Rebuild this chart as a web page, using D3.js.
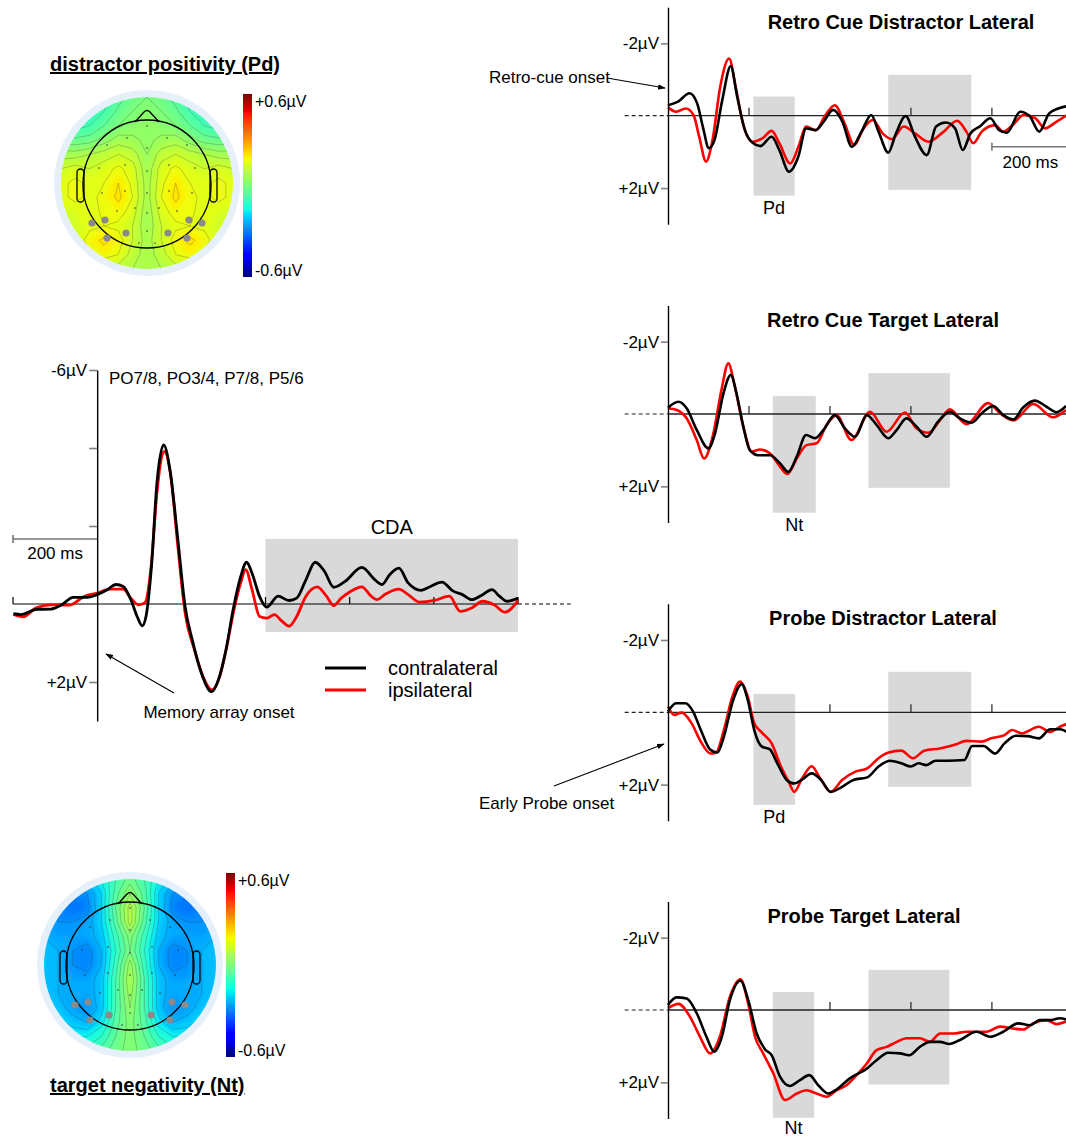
<!DOCTYPE html>
<html>
<head>
<meta charset="utf-8">
<script src="https://cdn.jsdelivr.net/npm/d3@7"></script>
<style>
body { margin: 0; background: #fff; }
svg { display: block; font-family: "Liberation Sans", Arial, sans-serif; }
</style>
</head>
<body>
<svg id="fig" width="1066" height="1138"></svg>
<script>
// ---------- data (ms, µV) ----------
// big plot, memory array locked
var mainContra = [[-199,0.25],[-181,0.27],[-145,0.14],[-110,0.13],[-84,0.02],[-57,-0.17],[-22,-0.17],[0,-0.24],[23,-0.36],[45,-0.5],[62,-0.45],[80,-0.11],[95,0.32],[107,0.56],[116,0.32],[129,-0.96],[142,-3.1],[158,-4.08],[173,-3.44],[191,-1.73],[209,0.07],[226,0.92],[248,1.78],[272,2.25],[288,1.95],[306,1.18],[323,0.15],[341,-0.7],[355,-1.07],[368,-0.79],[386,-0.19],[403,0.08],[430,-0.2],[456,-0.09],[474,-0.15],[496,-0.62],[518,-1.07],[540,-0.84],[562,-0.43],[589,-0.58],[629,-0.94],[660,-0.62],[677,-0.5],[695,-0.75],[717,-0.92],[739,-0.54],[770,-0.35],[792,-0.45],[819,-0.56],[846,-0.33],[868,-0.24],[890,-0.11],[916,-0.24],[938,-0.37],[956,-0.2],[974,-0.07],[1000,-0.15]];
var mainIpsi = [[-199,0.27],[-176,0.33],[-145,0.1],[-110,0.02],[-66,0.03],[-30,-0.2],[0,-0.28],[31,-0.38],[62,-0.38],[80,-0.15],[98,0.02],[113,-0.03],[129,-1.05],[142,-2.85],[160,-3.91],[175,-3.27],[191,-1.56],[209,0.23],[231,1.17],[251,1.85],[272,2.2],[290,1.9],[308,1.09],[325,0.15],[341,-0.54],[353,-0.88],[368,-0.37],[386,0.32],[403,0.36],[421,0.27],[439,0.44],[456,0.57],[474,0.32],[496,-0.2],[523,-0.44],[545,-0.2],[562,0.04],[580,-0.15],[602,-0.32],[629,-0.44],[651,-0.2],[664,-0.11],[686,-0.26],[717,-0.38],[739,-0.24],[766,-0.05],[801,-0.09],[837,-0.2],[863,0.19],[890,0.1],[916,-0.07],[943,0.02],[969,0.21],[1000,-0.09]];
var mainYTicks = [-6, -4, -2, 2];
var mainYLabels = ["-6µV", "", "", "+2µV"];
var mainXTicks = [-200, 400, 600, 800, 1000];
var cdaWindow = [400, 1000, -1.67, 0.72];

// retro cue distractor lateral
var rcdContra = [[0,-0.29],[25,-0.39],[53,-0.62],[72,-0.34],[86,0.3],[101,0.9],[115,0.67],[134,-0.43],[155,-1.37],[171,-0.52],[190,0.4],[209,0.75],[228,0.84],[256,0.58],[275,0.95],[299,1.55],[322,1.13],[341,0.35],[365,0.4],[384,0.17],[408,-0.16],[431,0.17],[454,0.86],[478,0.44],[502,-0.02],[520,0.44],[544,1.02],[563,0.49],[587,0.01],[610,0.58],[639,1.09],[662,0.3],[686,0.19],[709,0.35],[728,0.95],[747,0.49],[771,0.29],[796,0.07],[818,0.4],[837,0.47],[870,-0.11],[893,0.01],[917,0.44],[941,-0.06],[964,-0.2],[990,-0.27]];
var rcdIpsi = [[0,-0.23],[20,-0.11],[44,-0.2],[63,-0.02],[77,0.58],[94,1.27],[110,0.67],[129,-0.8],[151,-1.58],[167,-0.8],[185,0.21],[209,0.72],[233,0.63],[256,0.42],[275,0.76],[302,1.32],[322,0.86],[341,0.3],[365,0.4],[389,-0.02],[412,-0.29],[436,0.21],[460,0.81],[483,0.35],[506,0.12],[530,0.49],[553,0.65],[582,0.3],[610,0.49],[643,0.72],[681,0.44],[714,0.14],[737,0.44],[754,0.76],[775,0.44],[808,0.26],[827,0.44],[851,0.26],[879,-0.02],[907,0.07],[931,0.35],[959,0.17],[990,-0.05]];
var rcdBoxes = [[211,313,-0.53,2.21],[544,749,-1.13,2.05]];

// retro cue target lateral
var rctContra = [[0,-0.18],[26,-0.34],[46,-0.16],[71,0.44],[100,0.95],[116,0.54],[137,-0.57],[155,-1.08],[170,-0.53],[186,0.35],[202,1.0],[223,1.14],[252,1.14],[277,1.37],[297,1.6],[318,1.18],[341,0.58],[363,0.67],[384,0.44],[412,0.03],[437,0.4],[462,0.63],[491,0.03],[515,0.3],[544,0.67],[565,0.44],[589,0.12],[614,0.35],[639,0.63],[667,0.21],[696,-0.06],[721,0.12],[750,0.24],[775,-0.02],[803,-0.22],[828,0.03],[853,0.15],[877,-0.18],[906,-0.37],[935,-0.2],[960,-0.05],[983,-0.22]];
var rctIpsi = [[0,-0.16],[22,-0.11],[46,0.12],[71,0.72],[89,1.23],[112,0.54],[132,-0.66],[149,-1.4],[165,-0.76],[186,0.35],[207,1.04],[227,0.98],[252,1.09],[277,1.46],[295,1.66],[318,1.23],[342,0.86],[367,0.81],[392,0.3],[416,0.03],[453,0.72],[499,-0.06],[540,0.49],[585,-0.04],[614,0.4],[643,0.52],[672,0.17],[696,-0.13],[737,0.28],[791,-0.3],[820,-0.02],[853,0.18],[902,-0.28],[951,0.09],[983,-0.11]];
var rctBoxes = [[259,365,-0.5,2.73],[495,696,-1.13,2.04]];

// probe distractor lateral
var pdContra = [[0,-0.02],[20,-0.25],[43,-0.25],[62,-0.02],[81,0.49],[105,1.04],[122,1.11],[138,0.67],[161,-0.34],[182,-0.78],[197,-0.34],[213,0.49],[232,0.95],[251,1.02],[270,1.41],[293,1.87],[312,1.97],[331,1.86],[355,1.69],[378,1.87],[402,2.2],[430,2.06],[458,1.87],[492,1.8],[520,1.5],[548,1.34],[576,1.41],[600,1.5],[619,1.41],[638,1.46],[661,1.34],[690,1.34],[732,1.32],[751,0.93],[779,0.93],[808,1.14],[831,0.86],[859,0.65],[888,0.66],[916,0.72],[944,0.47],[968,0.47],[990,0.58]];
var pdIpsi = [[0,-0.16],[15,0.07],[34,0.01],[58,0.3],[81,0.81],[105,1.14],[119,1.11],[138,0.49],[159,-0.43],[178,-0.85],[197,-0.43],[213,0.3],[232,0.56],[256,0.86],[279,1.5],[298,1.92],[312,2.2],[331,1.83],[355,1.49],[376,1.83],[402,2.2],[430,1.87],[463,1.64],[492,1.55],[520,1.27],[543,1.12],[576,1.06],[605,1.27],[633,1.06],[671,1.0],[708,0.9],[737,0.79],[775,0.81],[798,0.72],[831,0.63],[850,0.49],[873,0.58],[916,0.4],[944,0.54],[968,0.4],[990,0.3]];
var pdBoxes = [[211,314,-0.51,2.56],[544,749,-1.12,2.06]];

// probe target lateral
var ptContra = [[0,-0.14],[21,-0.35],[46,-0.32],[71,0.09],[95,0.74],[114,1.15],[133,0.74],[153,-0.28],[179,-0.81],[198,-0.28],[219,0.65],[240,1.09],[256,1.25],[277,1.85],[301,2.1],[326,1.94],[349,1.8],[371,2.08],[396,2.31],[416,2.2],[449,1.89],[491,1.62],[515,1.39],[544,1.18],[573,1.2],[596,1.25],[622,1.02],[647,0.88],[672,0.88],[695,0.94],[721,0.83],[762,0.6],[795,0.74],[828,0.6],[865,0.37],[894,0.42],[918,0.28],[943,0.28],[968,0.23],[983,0.26]];
var ptIpsi = [[0,-0.05],[26,-0.17],[54,0.18],[79,0.74],[104,1.2],[128,0.74],[153,-0.37],[179,-0.85],[198,-0.18],[215,0.74],[235,1.2],[260,1.75],[289,2.49],[318,2.31],[342,2.22],[367,2.31],[392,2.4],[416,2.22],[441,2.08],[470,1.75],[491,1.48],[515,1.11],[540,1.02],[565,0.88],[589,0.78],[622,0.78],[647,0.88],[672,0.65],[705,0.65],[737,0.6],[787,0.6],[820,0.46],[853,0.51],[877,0.54],[902,0.37],[935,0.28],[960,0.39],[983,0.32]];
var ptBoxes = [[259,361,-0.5,2.98],[495,695,-1.11,2.06]];

var panelYTicks = [-2, 2];
var panelYLabels = ["-2µV", "+2µV"];

// topographies, 13 x 13 grid over the scalp disc, µV
var pdTopo = [
  [-0.12,-0.12,-0.12,-0.1,-0.06,-0.02,0.0,-0.02,-0.06,-0.1,-0.12,-0.12,-0.12],
  [-0.12,-0.12,-0.1,-0.08,-0.03,0.0,0.02,0.0,-0.03,-0.08,-0.1,-0.12,-0.12],
  [-0.08,-0.1,-0.08,-0.04,0.0,0.02,0.03,0.02,0.0,-0.04,-0.08,-0.1,-0.08],
  [-0.02,-0.03,-0.02,0.02,0.06,0.05,0.03,0.05,0.06,0.02,-0.02,-0.03,-0.02],
  [0.06,0.06,0.08,0.1,0.12,0.1,0.04,0.1,0.12,0.1,0.08,0.06,0.06],
  [0.12,0.14,0.12,0.14,0.17,0.14,0.05,0.14,0.17,0.14,0.12,0.14,0.12],
  [0.15,0.17,0.15,0.16,0.2,0.15,0.06,0.15,0.2,0.16,0.15,0.17,0.15],
  [0.15,0.17,0.15,0.17,0.21,0.16,0.06,0.16,0.21,0.17,0.15,0.17,0.15],
  [0.13,0.14,0.14,0.17,0.18,0.14,0.05,0.14,0.18,0.17,0.14,0.14,0.13],
  [0.12,0.13,0.15,0.16,0.15,0.12,0.05,0.12,0.15,0.16,0.15,0.13,0.12],
  [0.1,0.13,0.18,0.21,0.18,0.12,0.06,0.12,0.18,0.21,0.18,0.13,0.1],
  [0.08,0.1,0.15,0.18,0.16,0.1,0.06,0.1,0.16,0.18,0.15,0.1,0.08],
  [0.06,0.07,0.08,0.1,0.1,0.08,0.06,0.08,0.1,0.1,0.08,0.07,0.06]
];
var ntTopo = [
  [-0.2,-0.22,-0.24,-0.22,-0.16,-0.08,-0.02,-0.08,-0.16,-0.22,-0.24,-0.22,-0.2],
  [-0.24,-0.28,-0.3,-0.28,-0.2,-0.06,0.04,-0.06,-0.2,-0.28,-0.3,-0.28,-0.24],
  [-0.26,-0.3,-0.32,-0.3,-0.2,-0.04,0.1,-0.04,-0.2,-0.3,-0.32,-0.3,-0.26],
  [-0.26,-0.28,-0.28,-0.26,-0.2,-0.06,0.1,-0.06,-0.2,-0.26,-0.28,-0.28,-0.26],
  [-0.24,-0.26,-0.26,-0.26,-0.22,-0.1,0.02,-0.1,-0.22,-0.26,-0.26,-0.26,-0.24],
  [-0.22,-0.24,-0.28,-0.3,-0.24,-0.12,0.0,-0.12,-0.24,-0.3,-0.28,-0.24,-0.22],
  [-0.22,-0.24,-0.28,-0.3,-0.24,-0.1,0.06,-0.1,-0.24,-0.3,-0.28,-0.24,-0.22],
  [-0.22,-0.24,-0.26,-0.26,-0.22,-0.08,0.08,-0.08,-0.22,-0.26,-0.26,-0.24,-0.22],
  [-0.22,-0.24,-0.26,-0.26,-0.22,-0.08,0.06,-0.08,-0.22,-0.26,-0.26,-0.24,-0.22],
  [-0.2,-0.22,-0.26,-0.28,-0.22,-0.08,0.04,-0.08,-0.22,-0.28,-0.26,-0.22,-0.2],
  [-0.16,-0.18,-0.22,-0.24,-0.18,-0.06,0.02,-0.06,-0.18,-0.24,-0.22,-0.18,-0.16],
  [-0.12,-0.14,-0.16,-0.16,-0.12,-0.04,0.02,-0.04,-0.12,-0.16,-0.16,-0.14,-0.12],
  [-0.1,-0.1,-0.1,-0.1,-0.06,-0.02,0.02,-0.02,-0.06,-0.1,-0.1,-0.1,-0.1]
];
// electrodes of interest (PO7/8, PO3/4, P7/8, P5/6), offsets from head centre in px
var roiElectrodes = [[-55,40],[-42,37],[-21,50],[-40,55],[42,37],[55,40],[21,50],[40,55]];
// other scalp electrodes
var otherElectrodes = [[0,-57],[-20,-45],[20,-45],[-40,-38],[40,-38],[0,-35],[-22,-18],[22,-18],[-48,-15],[48,-15],[0,-12],[-22,8],[22,8],[-45,10],[45,10],[0,10],[-12,25],[12,25],[0,30],[-30,28],[30,28],[0,48],[-8,60],[8,60]];

// jet colour map, -0.6 .. +0.6 µV
var jetPos = [0, 0.11, 0.125, 0.34, 0.375, 0.5, 0.64, 0.66, 0.89, 0.91, 1];
var jetCols = ["#000080","#0000ff","#0000ff","#00dbff","#14ffe2","#7bff7b","#eeff08","#ffec00","#ff1300","#e80000","#800000"];
var cRange = [-0.6, 0.6];

// ---------- drawing ----------
var svg = d3.select("#fig");
var FONT = '"Liberation Sans", Arial, sans-serif';
svg.append("rect").attr("width", 1066).attr("height", 1138).attr("fill", "#fff");

var defs = svg.append("defs");
defs.append("marker")
  .attr("id", "arrow")
  .attr("viewBox", "0 0 10 10")
  .attr("refX", 9).attr("refY", 5)
  .attr("markerWidth", 7).attr("markerHeight", 7)
  .attr("orient", "auto")
  .append("path").attr("d", "M0,1.5L10,5L0,8.5z").attr("fill", "#000");
defs.append("filter").attr("id", "soft")
  .attr("x", "-10%").attr("y", "-10%").attr("width", "120%").attr("height", "120%")
  .append("feGaussianBlur").attr("stdDeviation", 2.5);

var jet = d3.scaleLinear()
  .domain(jetPos.map(p => cRange[0] + p * (cRange[1] - cRange[0])))
  .range(jetCols)
  .clamp(true);

function addText(g, x, y, str, size, opts) {
  opts = opts || {};
  return g.append("text")
    .attr("x", x).attr("y", y)
    .attr("font-family", FONT)
    .attr("font-size", size)
    .attr("font-weight", opts.bold ? "bold" : null)
    .attr("text-anchor", opts.anchor || "start")
    .attr("text-decoration", opts.underline ? "underline" : null)
    .attr("fill", "#000")
    .text(str);
}

function arrow(x1, y1, x2, y2) {
  svg.append("line")
    .attr("x1", x1).attr("y1", y1).attr("x2", x2).attr("y2", y2)
    .attr("stroke", "#000").attr("stroke-width", 1.1)
    .attr("marker-end", "url(#arrow)");
}

function styleAxis(ga) {
  ga.attr("font-family", FONT).attr("font-size", 17);
  ga.select(".domain").attr("stroke", "#000").attr("stroke-width", 1.4);
  ga.selectAll(".tick line").attr("stroke", "#808080").attr("stroke-width", 1.6);
  ga.selectAll(".tick text").attr("fill", "#000");
}

function drawCurves(g, x, y, contra, ipsi, width) {
  var line = d3.line().x(d => x(d[0])).y(d => y(d[1])).curve(d3.curveMonotoneX);
  g.append("path").datum(ipsi).attr("d", line)
    .attr("fill", "none").attr("stroke", "#ff0000").attr("stroke-width", width)
    .attr("stroke-linejoin", "round");
  g.append("path").datum(contra).attr("d", line)
    .attr("fill", "none").attr("stroke", "#000").attr("stroke-width", width)
    .attr("stroke-linejoin", "round");
}

// ----- big CDA plot -----
(function() {
  var x = d3.scaleLinear().domain([-200, 1000]).range([13, 518]);
  var y = d3.scaleLinear().domain([-6, 3]).range([370, 721]);
  var g = svg.append("g");

  g.append("rect")
    .attr("x", x(cdaWindow[0])).attr("y", y(cdaWindow[2]))
    .attr("width", x(cdaWindow[1]) - x(cdaWindow[0]))
    .attr("height", y(cdaWindow[3]) - y(cdaWindow[2]))
    .attr("fill", "#d9d9d9");
  addText(g, (x(cdaWindow[0]) + x(cdaWindow[1])) / 2, y(cdaWindow[2]) - 5, "CDA", 20, {anchor: "middle"});

  // zero line
  g.append("line").attr("x1", x(-200)).attr("x2", x(1000)).attr("y1", y(0)).attr("y2", y(0))
    .attr("stroke", "#000").attr("stroke-width", 1.2);
  g.append("line").attr("x1", x(1000)).attr("x2", x(1125)).attr("y1", y(0)).attr("y2", y(0))
    .attr("stroke", "#000").attr("stroke-width", 1.2).attr("stroke-dasharray", "4,3");
  g.selectAll(".xt").data(mainXTicks).enter().append("line")
    .attr("x1", d => x(d)).attr("x2", d => x(d))
    .attr("y1", y(0)).attr("y2", y(0) - 7)
    .attr("stroke", "#000").attr("stroke-width", 1.2);

  // 200 ms scale bar
  g.append("line").attr("x1", x(-200)).attr("x2", x(0)).attr("y1", 539).attr("y2", 539)
    .attr("stroke", "#777").attr("stroke-width", 1.6);
  g.append("line").attr("x1", x(-200)).attr("x2", x(-200)).attr("y1", 535).attr("y2", 543)
    .attr("stroke", "#777").attr("stroke-width", 1.6);
  addText(g, x(-100), 559, "200 ms", 17, {anchor: "middle"});

  drawCurves(g, x, y, mainContra, mainIpsi, 2.8);

  var ga = g.append("g").attr("transform", "translate(" + x(0) + ",0)")
    .call(d3.axisLeft(y).tickValues(mainYTicks).tickSize(8).tickSizeOuter(0).tickPadding(2)
      .tickFormat(d => mainYLabels[mainYTicks.indexOf(d)]));
  styleAxis(ga);

  addText(g, 109, 384, "PO7/8, PO3/4, P7/8, P5/6", 17);

  // legend
  var leg = [["contralateral", "#000"], ["ipsilateral", "#ff0000"]];
  leg.forEach(function(d, i) {
    g.append("line").attr("x1", 325).attr("x2", 366).attr("y1", 668 + i * 22).attr("y2", 668 + i * 22)
      .attr("stroke", d[1]).attr("stroke-width", 3);
    addText(g, 388, 675 + i * 22, d[0], 20);
  });

  addText(g, 219, 718, "Memory array onset", 17, {anchor: "middle"});
  arrow(174, 693, 106, 654);
})();

// ----- right hand panels -----
var panels = [
  {title: "Retro Cue Distractor Lateral", zero: 115.7, titleX: 901, contra: rcdContra, ipsi: rcdIpsi, boxes: rcdBoxes, label: "Pd", ticks: [200, 600, 800]},
  {title: "Retro Cue Target Lateral", zero: 414, titleX: 883, contra: rctContra, ipsi: rctIpsi, boxes: rctBoxes, label: "Nt", ticks: [200, 400, 600, 800]},
  {title: "Probe Distractor Lateral", zero: 712.3, titleX: 883, contra: pdContra, ipsi: pdIpsi, boxes: pdBoxes, label: "Pd", ticks: [400, 600, 800]},
  {title: "Probe Target Lateral", zero: 1010, titleX: 864, contra: ptContra, ipsi: ptIpsi, boxes: ptBoxes, label: "Nt", ticks: [400, 600, 800]}
];

panels.forEach(function(p, pi) {
  var x = d3.scaleLinear().domain([0, 983]).range([668, 1066]);
  var y = d3.scaleLinear().domain([-3, 3]).range([p.zero - 108.5, p.zero + 108.5]);
  var g = svg.append("g");

  g.selectAll(".box").data(p.boxes).enter().append("rect")
    .attr("x", d => x(d[0])).attr("width", d => x(d[1]) - x(d[0]))
    .attr("y", d => y(d[2])).attr("height", d => y(d[3]) - y(d[2]))
    .attr("fill", "#d9d9d9");
  var b0 = p.boxes[0];
  addText(g, (x(b0[0]) + x(b0[1])) / 2, Math.min(y(b0[3]) + 18, 1134), p.label, 18, {anchor: "middle"});

  g.append("line").attr("x1", x(0)).attr("x2", 1066).attr("y1", y(0)).attr("y2", y(0))
    .attr("stroke", "#222").attr("stroke-width", 1.3);
  g.append("line").attr("x1", x(-107)).attr("x2", x(0)).attr("y1", y(0)).attr("y2", y(0))
    .attr("stroke", "#222").attr("stroke-width", 1.2).attr("stroke-dasharray", "4,3");
  g.selectAll(".xt").data(p.ticks).enter().append("line")
    .attr("x1", d => x(d)).attr("x2", d => x(d))
    .attr("y1", y(0)).attr("y2", y(0) - 8)
    .attr("stroke", "#222").attr("stroke-width", 1.2);

  drawCurves(g, x, y, p.contra, p.ipsi, 2.6);

  var ga = g.append("g").attr("transform", "translate(" + x(0) + ",0)")
    .call(d3.axisLeft(y).tickValues(panelYTicks).tickSize(7).tickSizeOuter(0).tickPadding(2)
      .tickFormat(d => panelYLabels[panelYTicks.indexOf(d)]));
  styleAxis(ga);

  addText(g, p.titleX, p.zero - 87, p.title, 20, {anchor: "middle", bold: true});

  if (pi === 0) {
    var sy = p.zero + 31;
    g.append("line").attr("x1", x(800)).attr("x2", x(1000)).attr("y1", sy).attr("y2", sy)
      .attr("stroke", "#777").attr("stroke-width", 1.6);
    g.append("line").attr("x1", x(800)).attr("x2", x(800)).attr("y1", sy - 4).attr("y2", sy + 4)
      .attr("stroke", "#777").attr("stroke-width", 1.6);
    addText(g, x(895), sy + 21, "200 ms", 17, {anchor: "middle"});
    addText(g, 489, 83, "Retro-cue onset", 17);
    arrow(607, 78, 665, 88);
  }
  if (pi === 2) {
    addText(g, 479, 809, "Early Probe onset", 17);
    arrow(554, 786, 664, 744);
  }
});

// ----- topographies -----
function drawTopo(cfg) {
  var n = cfg.values.length;
  var half = 86;
  var step = 2 * half / (n - 1);
  var g = svg.append("g");
  var clipId = "clip" + cfg.id;
  defs.append("clipPath").attr("id", clipId)
    .append("circle").attr("cx", cfg.cx).attr("cy", cfg.cy).attr("r", 86);

  g.append("circle").attr("cx", cfg.cx).attr("cy", cfg.cy).attr("r", 93).attr("fill", "#e6f0fb");

  var flat = [].concat.apply([], cfg.values);
  var lo = d3.min(flat);
  var thr = d3.range(-0.6, 0.6001, 0.02).map(v => Math.round(v * 100) / 100);
  var contours = d3.contours().size([n, n]).thresholds(thr)(flat).filter(c => c.coordinates.length);
  var proj = d3.geoIdentity().scale(step).translate([cfg.cx - half - step / 2, cfg.cy - half - step / 2]);
  var path = d3.geoPath(proj);

  var cg = g.append("g").attr("clip-path", "url(#" + clipId + ")");
  var fillG = cg.append("g").attr("filter", "url(#soft)");
  fillG.append("rect").attr("x", cfg.cx - 100).attr("y", cfg.cy - 100).attr("width", 200).attr("height", 200)
    .attr("fill", jet(lo));
  fillG.selectAll(".band").data(contours).enter().append("path")
    .attr("d", path)
    .attr("fill", d => jet(d.value + 0.01));
  cg.selectAll(".iso").data(contours.filter(d => Math.round(d.value * 100) % 4 === 0)).enter().append("path")
    .attr("d", path)
    .attr("fill", "none")
    .attr("stroke", "#3a3a3a")
    .attr("stroke-width", 0.5)
    .attr("stroke-opacity", 0.55);

  // small electrode dots
  g.selectAll(".el").data(otherElectrodes).enter().append("circle")
    .attr("cx", d => cfg.cx + d[0]).attr("cy", d => cfg.cy + d[1]).attr("r", 0.8)
    .attr("fill", "#333");

  // head outline, nose, ears
  var hc = cfg.cy + 1, hr = 64;
  g.append("circle").attr("cx", cfg.cx).attr("cy", hc).attr("r", hr)
    .attr("fill", "none").attr("stroke", "#000").attr("stroke-width", 1.3);
  var top = hc - hr;
  g.append("path")
    .attr("d", "M" + (cfg.cx - 12) + "," + (top + 2) + "L" + (cfg.cx - 3) + "," + (top - 8) +
      "Q" + cfg.cx + "," + (top - 11) + " " + (cfg.cx + 3) + "," + (top - 8) + "L" + (cfg.cx + 12) + "," + (top + 2))
    .attr("fill", "none").attr("stroke", "#000").attr("stroke-width", 1.3);
  [-1, 1].forEach(function(s) {
    g.append("rect")
      .attr("x", s < 0 ? cfg.cx - 70 : cfg.cx + 63).attr("y", hc - 15)
      .attr("width", 7).attr("height", 33).attr("rx", 3.5)
      .attr("fill", "none").attr("stroke", "#000").attr("stroke-width", 1.3);
  });

  g.selectAll(".roi").data(roiElectrodes).enter().append("circle")
    .attr("cx", d => cfg.cx + d[0]).attr("cy", d => cfg.cy + d[1]).attr("r", 3.6)
    .attr("fill", "#8a8a8a");

  // colour bar
  var gid = "grad" + cfg.id;
  var grad = defs.append("linearGradient").attr("id", gid)
    .attr("x1", 0).attr("y1", 1).attr("x2", 0).attr("y2", 0);
  grad.selectAll("stop").data(jetPos).enter().append("stop")
    .attr("offset", d => d).attr("stop-color", (d, i) => jetCols[i]);
  g.append("rect").attr("x", cfg.cbX).attr("y", cfg.cbTop).attr("width", 9)
    .attr("height", cfg.cbBottom - cfg.cbTop).attr("fill", "url(#" + gid + ")");
  addText(g, cfg.cbX + 12, cfg.cbTop + 13, "+0.6µV", 16);
  addText(g, cfg.cbX + 12, cfg.cbBottom - 1, "-0.6µV", 16);

  addText(g, 50, cfg.titleY, cfg.title, 20, {bold: true, underline: true});
}

drawTopo({id: "pd", cx: 147, cy: 183, values: pdTopo, cbX: 243, cbTop: 94, cbBottom: 277,
  title: "distractor positivity (Pd)", titleY: 71});
drawTopo({id: "nt", cx: 130, cy: 965, values: ntTopo, cbX: 226, cbTop: 873, cbBottom: 1057,
  title: "target negativity (Nt)", titleY: 1092});
</script>
</body>
</html>
